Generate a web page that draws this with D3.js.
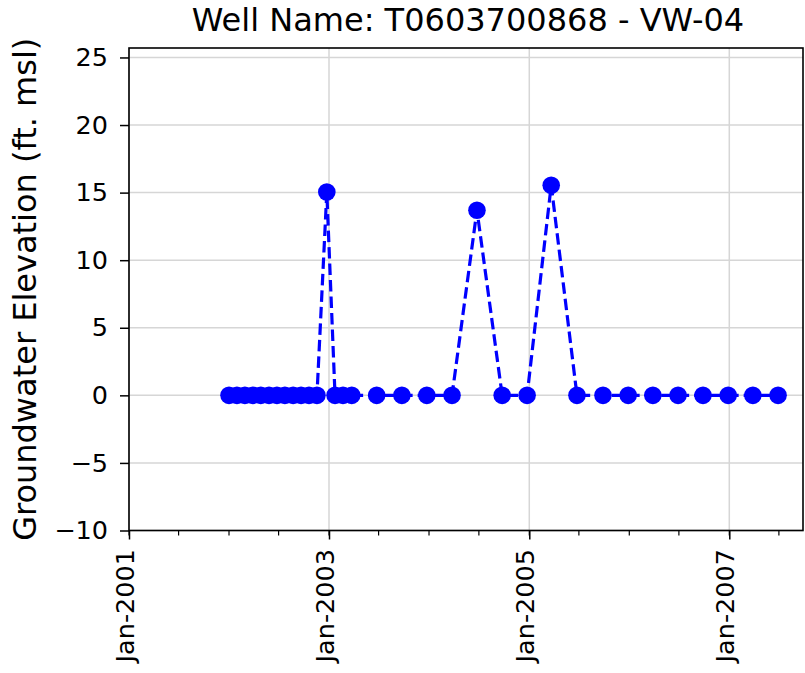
<!DOCTYPE html>
<html>
<head>
<meta charset="utf-8">
<script src="https://cdn.jsdelivr.net/npm/d3@7"></script>
<style>
  body { margin: 0; background: #fff; }
  text { font-family: 'DejaVu Sans', sans-serif; fill: #000; }
</style>
</head>
<body>
<div id="graf"></div>
<script>
// measurement dates and elevations (ft. msl)
const fechas = [
  '2002-01-01', '2002-01-30', '2002-02-28', '2002-03-29', '2002-04-27', '2002-05-27',
  '2002-06-25', '2002-07-24', '2002-08-23', '2002-09-21', '2002-10-20', '2002-11-18',
  '2002-12-24', '2003-01-23', '2003-02-21', '2003-03-25', '2003-06-24', '2003-09-24',
  '2003-12-24', '2004-03-25', '2004-06-24', '2004-09-24', '2004-12-24', '2005-03-22',
  '2005-06-24', '2005-09-27', '2005-12-28', '2006-03-28', '2006-06-28', '2006-09-27',
  '2006-12-28', '2007-03-28', '2007-06-28'
]
const niveles = [
  0, 0, 0, 0, 0, 0,
  0, 0, 0, 0, 0, 0,
  15.04, 0, 0, 0, 0, 0,
  0, 0, 13.7, 0, 0, 15.55,
  0, 0, 0, 0, 0, 0,
  0, 0, 0
]
const yTicks = [-10, -5, 0, 5, 10, 15, 20, 25]
const xTicks = ['2001-01-01', '2003-01-01', '2005-01-01', '2007-01-01']

const anchoTotal = 805
const altoTotal = 673
const margin = { top: 48, bottom: 142.5, left: 129, right: 2 }
const ancho = anchoTotal - margin.left - margin.right
const alto = altoTotal - margin.top - margin.bottom

const parse = d3.timeParse('%Y-%m-%d')
const data = fechas.map((f, i) => ({ fecha: parse(f), nivel: niveles[i] }))

const svg = d3.select('#graf')
  .append('svg')
  .attr('width', anchoTotal)
  .attr('height', altoTotal)

const g = svg.append('g')
  .attr('transform', `translate(${margin.left}, ${margin.top})`)

const x = d3.scaleTime()
  .domain([parse('2001-01-01'), parse('2007-09-27')])
  .range([0, ancho])

const y = d3.scaleLinear()
  .domain([-10, 25.7])
  .range([alto, 0])

// grid
g.append('g')
  .selectAll('line.gy')
  .data(yTicks)
  .join('line')
  .attr('x1', 0).attr('x2', ancho)
  .attr('y1', d => y(d)).attr('y2', d => y(d))
  .attr('stroke', '#d6d6d6').attr('stroke-width', 1.5)

g.append('g')
  .selectAll('line.gx')
  .data(xTicks.map(parse))
  .join('line')
  .attr('x1', d => x(d)).attr('x2', d => x(d))
  .attr('y1', 0).attr('y2', alto)
  .attr('stroke', '#d6d6d6').attr('stroke-width', 1.5)

// minor x ticks every 6 months
const menores = d3.timeMonth.every(6).range(parse('2001-01-01'), x.domain()[1])
g.append('g')
  .attr('transform', `translate(0, ${alto})`)
  .selectAll('line')
  .data(menores)
  .join('line')
  .attr('x1', d => x(d)).attr('x2', d => x(d))
  .attr('y1', 0).attr('y2', 5)
  .attr('stroke', '#000').attr('stroke-width', 1.2)

// x axis
const xAxis = g.append('g')
  .attr('transform', `translate(0, ${alto})`)
  .call(d3.axisBottom(x)
    .tickValues(xTicks.map(parse))
    .tickSize(9)
    .tickFormat(d3.timeFormat('%b-%Y')))
xAxis.select('.domain').remove()
xAxis.selectAll('line').attr('stroke-width', 1.5)
xAxis.selectAll('text')
  .attr('font-size', 25.5)
  .attr('font-family', 'DejaVu Sans')
  .attr('text-anchor', 'end')
  .attr('dy', '0.16em')
  .attr('transform', 'rotate(-90)')
  .attr('x', -18.5)
  .attr('y', 0)

// y axis
const yAxis = g.append('g')
  .call(d3.axisLeft(y)
    .tickValues(yTicks)
    .tickSize(9)
    .tickPadding(12)
    .tickFormat(d => d < 0 ? '\u2212' + Math.abs(d) : d))
yAxis.select('.domain').remove()
yAxis.selectAll('line').attr('stroke-width', 1.5)
yAxis.selectAll('text')
  .attr('font-size', 25.5)
  .attr('font-family', 'DejaVu Sans')

// frame
g.append('rect')
  .attr('width', ancho).attr('height', alto)
  .attr('fill', 'none').attr('stroke', '#000').attr('stroke-width', 1.6)

// series
const linea = d3.line()
  .x(d => x(d.fecha))
  .y(d => y(d.nivel))

g.append('path')
  .datum(data)
  .attr('d', linea)
  .attr('fill', 'none')
  .attr('stroke', '#0000ff')
  .attr('stroke-width', 3.2)
  .attr('stroke-dasharray', '11.5,5')

g.selectAll('circle')
  .data(data)
  .join('circle')
  .attr('cx', d => x(d.fecha))
  .attr('cy', d => y(d.nivel))
  .attr('r', 8.8)
  .attr('fill', '#0000ff')

// titles
svg.append('text')
  .attr('x', margin.left + ancho / 2 + 2)
  .attr('y', 31)
  .attr('text-anchor', 'middle')
  .attr('font-size', 32)
  .text('Well Name: T0603700868 - VW-04')

svg.append('text')
  .attr('transform', `translate(36, ${margin.top + alto / 2}) rotate(-90)`)
  .attr('text-anchor', 'middle')
  .attr('font-size', 32)
  .text('Groundwater Elevation (ft. msl)')
</script>
</body>
</html>
